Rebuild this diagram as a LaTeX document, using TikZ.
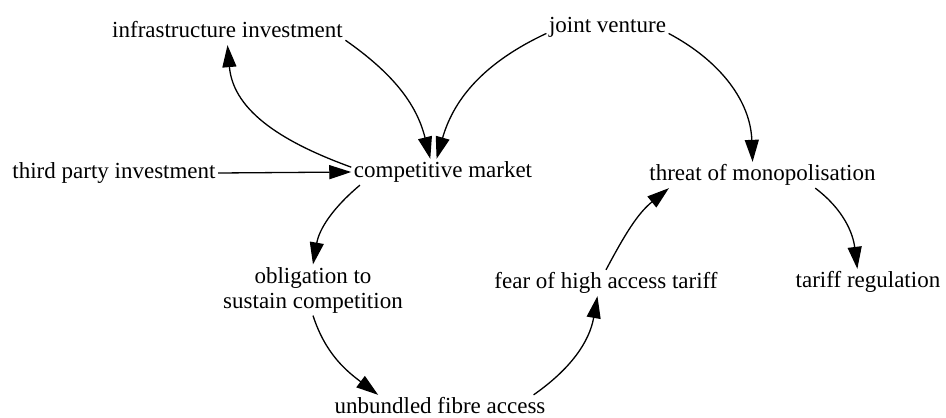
\documentclass[tikz,border=0pt]{standalone}
\usepackage{fontspec}
\setmainfont{Liberation Serif}
\usetikzlibrary{arrows.meta}

\begin{document}
\begin{tikzpicture}[x=1pt,y=1pt,->,>={Triangle[length=22pt,width=14pt]},
  line width=1.3pt,
  base/.style={font=\fontsize{23}{25}\selectfont,inner sep=2pt},
  word/.style={base,text height=16pt,text depth=5pt}]

  \useasboundingbox (0,0) rectangle (946,-418);

  \node[word] (infra) at (227.5,-32) {infrastructure investment};
  \node[word] (joint) at (607.5,-27) {joint venture};
  \node[word] (third) at (114,-173) {third party investment};
  \node[word] (comp) at (443,-172) {competitive market};
  \node[word] (threat) at (762.5,-175) {threat of monopolisation};
  \node[base,align=center] (oblig) at (313,-290) {obligation to\\sustain competition};
  \node[word] (fear) at (606,-283) {fear of high access tariff};
  \node[word] (tariff) at (868,-282) {tariff regulation};
  \node[word] (unb) at (440,-408) {unbundled fibre access};

  \path
    (infra.-4) edge [out=-35,in=104] (comp.134)
    (comp.177) edge [out=160,in=-85] (infra.south)
    (joint.186) edge [out=205,in=74] (comp.116)
    (joint.-6) edge [out=-28,in=92] (threat.127)
    (third.east) edge (comp.west)
    (comp.189) edge [out=220,in=80] (oblig.north)
    (oblig.south) edge [out=-72,in=143] (unb.168)
    (unb.8) edge [out=35,in=-100] (fear.-123)
    (fear.north) edge [out=62,in=219] (threat.-172)
    (threat.-14) edge [out=-37,in=97] (tariff.129);
\end{tikzpicture}
\end{document}
